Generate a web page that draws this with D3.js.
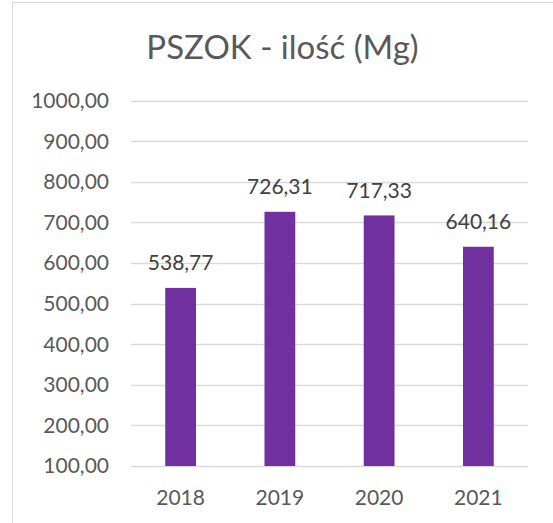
<!DOCTYPE html>
<html lang="pl">
<head>
<meta charset="UTF-8" />
<title>PSZOK - ilość (Mg)</title>
<style>
  * { margin: 0; padding: 0; }
  body { background: #fff; }
  svg { display: block; font-family: Lato, 'Open Sans', sans-serif; }
  .grid line { stroke: #d9d9d9; stroke-width: 1.3px; }
  .tick-label { fill: #595959; font-size: 21px; }
  .year { fill: #595959; font-size: 21px; }
  .value { fill: #404040; font-size: 21px; }
  .title { fill: #595959; font-size: 33px; }
</style>
</head>
<body>
<svg id="chart" width="553" height="523"></svg>
<script src="https://d3js.org/d3.v7.min.js"></script>
<script>
// data
let years = ['2018', '2019', '2020', '2021'];
let values = [538.77, 726.31, 717.33, 640.16];
let yTicks = [100, 200, 300, 400, 500, 600, 700, 800, 900, 1000];

let svg = d3.select('#chart'),
  width = +svg.attr('width'),
  height = +svg.attr('height');

let fmt = d => d3.format('.2f')(d).replace('.', ',');

// chart area frame (cut off on the right/bottom)
svg.append('rect')
  .attr('x', 12.5).attr('y', 2.5)
  .attr('width', width).attr('height', height)
  .attr('fill', '#fff')
  .attr('stroke', '#d9d9d9');

let x = d3.scaleBand().domain(years).range([131, 528]).padding(0);
let y = d3.scaleLinear().domain([100, 1000]).range([466, 100.7]);

// gridlines
svg.append('g').attr('class', 'grid')
  .selectAll('line').data(yTicks).join('line')
  .attr('x1', x.range()[0]).attr('x2', x.range()[1])
  .attr('y1', d => Math.round(y(d)) + 0.5)
  .attr('y2', d => Math.round(y(d)) + 0.5);

// y tick labels
svg.append('g')
  .selectAll('text').data(yTicks).join('text')
  .attr('class', 'tick-label')
  .attr('x', 109)
  .attr('y', d => y(d))
  .attr('dy', '0.35em')
  .attr('text-anchor', 'end')
  .text(fmt);

// bars
let barW = x.bandwidth() * 0.31;
svg.append('g')
  .selectAll('rect').data(values).join('rect')
  .attr('x', (d, i) => x(years[i]) + (x.bandwidth() - barW) / 2)
  .attr('y', d => y(d))
  .attr('width', barW)
  .attr('height', d => y(100) - y(d))
  .attr('fill', '#7030a0');

// value labels
svg.append('g')
  .selectAll('text').data(values).join('text')
  .attr('class', 'value')
  .attr('x', (d, i) => x(years[i]) + x.bandwidth() / 2)
  .attr('y', d => y(d) - 17.5)
  .attr('text-anchor', 'middle')
  .text(fmt);

// x labels
svg.append('g')
  .selectAll('text').data(years).join('text')
  .attr('class', 'year')
  .attr('x', d => x(d) + x.bandwidth() / 2)
  .attr('y', 505)
  .attr('text-anchor', 'middle')
  .text(d => d);

// title
svg.append('text')
  .attr('class', 'title')
  .attr('x', (12 + width) / 2)
  .attr('y', 59)
  .attr('text-anchor', 'middle')
  .text('PSZOK - ilość (Mg)');
</script>
</body>
</html>
